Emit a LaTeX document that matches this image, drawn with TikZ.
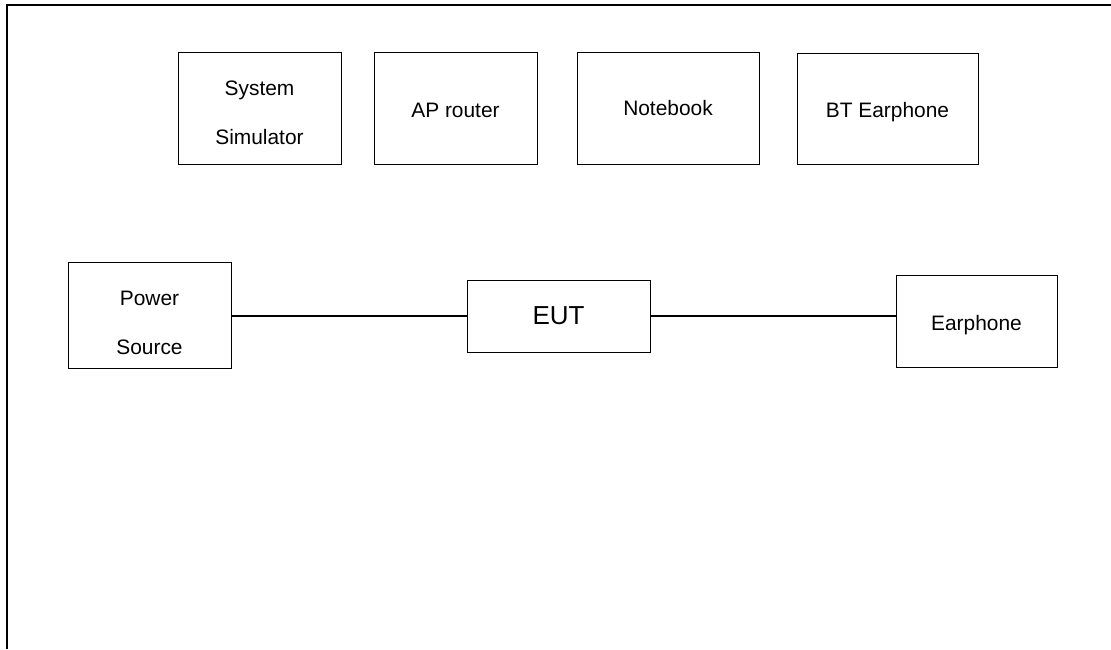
\documentclass[tikz,border=0pt]{standalone}
\usepackage{fontspec}
\setmainfont{Liberation Sans}
\usepackage{tikz}
\newcommand{\px}{0.02cm}

\begin{document}
\begin{tikzpicture}[x=\px, y=-\px,
	box/.style 2 args={draw, line width=0.55pt, inner sep=0pt,
		minimum width=#1*\px, minimum height=#2*\px},
	txt/.style={align=center, inner sep=0pt, font=\fontsize{11.9}{27.8}\selectfont},
	link/.style={line width=0.8pt}]
			% Page size and the frame lines at top and left
			\useasboundingbox (0,0) rectangle (1111,649);
			\draw[line width=1.3pt] (1111,5) -- (7,5) -- (7,649);
			
			% Support equipment along the top
			\node[box={163}{112}, label={[txt, yshift=-5*\px]center:System\\Simulator}] (sim) at (259.5,108) {};
			\node[box={163}{112}, label={[txt, yshift=-2*\px]center:AP router}] (ap) at (455.5,108) {};
			\node[box={182}{112}, label={[txt]center:Notebook}] (nb) at (668,108) {};
			\node[box={181}{111}, label={[txt, yshift=-4*\px]center:BT Earphone}] (bt) at (887.5,108.5) {};
			
			% Test set-up
			\node[box={163}{106}, label={[txt, yshift=-8*\px]center:Power\\Source}] (ps) at (149.5,315) {};
			\node[box={183}{72}, label={[txt, font=\fontsize{14.8}{18}\selectfont]center:EUT}] (eut) at (558.5,316) {};
			\node[box={161}{92}, label={[txt, yshift=-4*\px]center:Earphone}] (ear) at (976.5,321) {};
			
			% Cables
			\draw[link] (ps.east |- eut.west) -- (eut.west);
			\draw[link] (eut.east) -- (eut.east -| ear.west);
		\end{tikzpicture}
\end{document}
